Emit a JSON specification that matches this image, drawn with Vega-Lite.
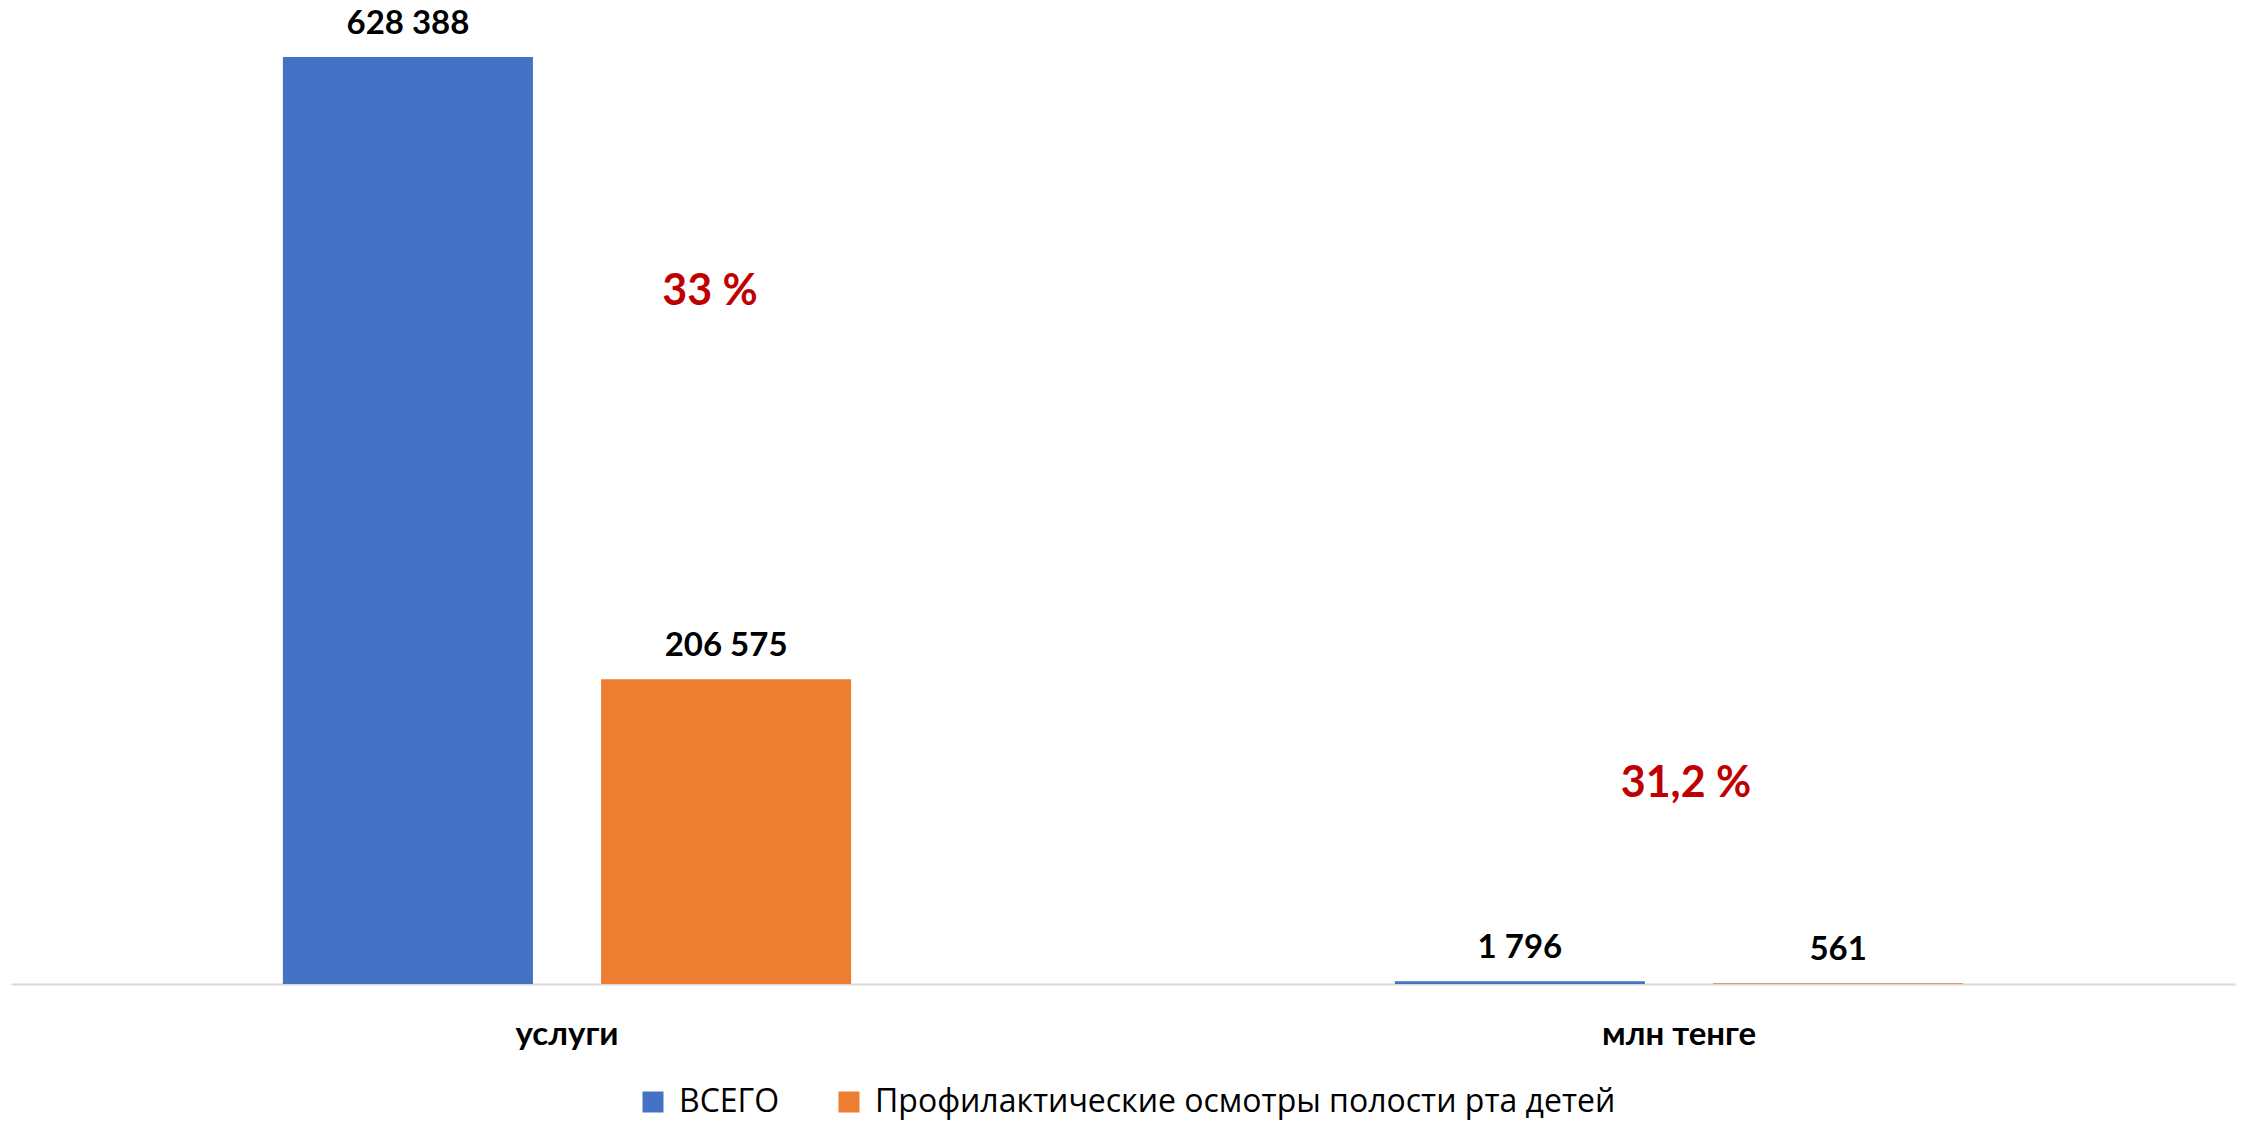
{
  "$schema": "https://vega.github.io/schema/vega-lite/v6.json",
  "autosize": {"type": "none"},
  "width": 2224,
  "height": 940,
  "padding": {"left": 11, "top": 44, "right": 9, "bottom": 140},
  "background": "white",
  "config": {
    "locale": {"number": {"decimal": ",", "thousands": " ", "grouping": [3], "currency": ["", ""]}},
    "view": {"stroke": null},
    "font": "Lato"
  },
  "data": {"values": [
    {"cat": "услуги", "series": "ВСЕГО", "value": 628388},
    {"cat": "услуги", "series": "Профилактические осмотры полости рта детей", "value": 206575},
    {"cat": "млн тенге", "series": "ВСЕГО", "value": 1796},
    {"cat": "млн тенге", "series": "Профилактические осмотры полости рта детей", "value": 561}
  ]},
  "encoding": {
    "x": {
      "field": "cat", "type": "nominal", "sort": ["услуги", "млн тенге"],
      "scale": {"paddingInner": 0.489, "paddingOuter": 0.2445},
      "axis": {"title": null, "labelAngle": 0, "domainColor": "#D9D9D9", "domainWidth": 2, "ticks": false, "tickSize": 0, "labelPadding": 50, "labelBaseline": "middle", "labelFont": "Lato", "labelFontSize": 33, "labelFontWeight": "bold", "labelColor": "#000000"}
    }
  },
  "layer": [
    {
      "mark": {"type": "bar"},
      "encoding": {
        "xOffset": {"field": "series", "type": "nominal", "sort": ["ВСЕГО", "Профилактические осмотры полости рта детей"], "scale": {"paddingInner": 0.214, "paddingOuter": 0}},
        "y": {"field": "value", "type": "quantitative", "scale": {"domain": [0, 637200], "nice": false}, "axis": null},
        "color": {
          "field": "series", "type": "nominal",
          "scale": {"domain": ["ВСЕГО", "Профилактические осмотры полости рта детей"], "range": ["#4472C4", "#ED7D31"]},
          "legend": {"title": null, "orient": "none", "legendX": 626, "legendY": 1042, "direction": "horizontal", "symbolType": "square", "symbolSize": 441, "symbolStrokeWidth": 0, "labelFont": "Open Sans", "labelFontSize": 32, "labelColor": "#000000", "labelOffset": 10, "columnPadding": 53, "labelLimit": 1200, "padding": 0}
        }
      }
    },
    {
      "mark": {"type": "text", "baseline": "middle", "dy": -33, "fontSize": 33, "fontWeight": "bold", "color": "#000000", "font": "Lato"},
      "encoding": {
        "xOffset": {"field": "series", "type": "nominal", "sort": ["ВСЕГО", "Профилактические осмотры полости рта детей"], "scale": {"paddingInner": 0.214, "paddingOuter": 0}},
        "y": {"field": "value", "type": "quantitative"},
        "text": {"field": "value", "type": "quantitative", "format": ",d"}
      }
    },
    {
      "data": {"values": [{"cat": "услуги", "pct": "33 %"}]},
      "mark": {"type": "text", "baseline": "middle", "dx": 143, "fontSize": 43, "fontWeight": "bold", "color": "#C00000", "font": "Lato"},
      "encoding": {
        "y": {"datum": 469090, "type": "quantitative"},
        "text": {"field": "pct", "type": "nominal"}
      }
    },
    {
      "data": {"values": [{"cat": "млн тенге", "pct": "31,2 %"}]},
      "mark": {"type": "text", "baseline": "middle", "dx": 7, "fontSize": 43, "fontWeight": "bold", "color": "#C00000", "font": "Lato"},
      "encoding": {
        "y": {"datum": 135574, "type": "quantitative"},
        "text": {"field": "pct", "type": "nominal"}
      }
    }
  ]
}
